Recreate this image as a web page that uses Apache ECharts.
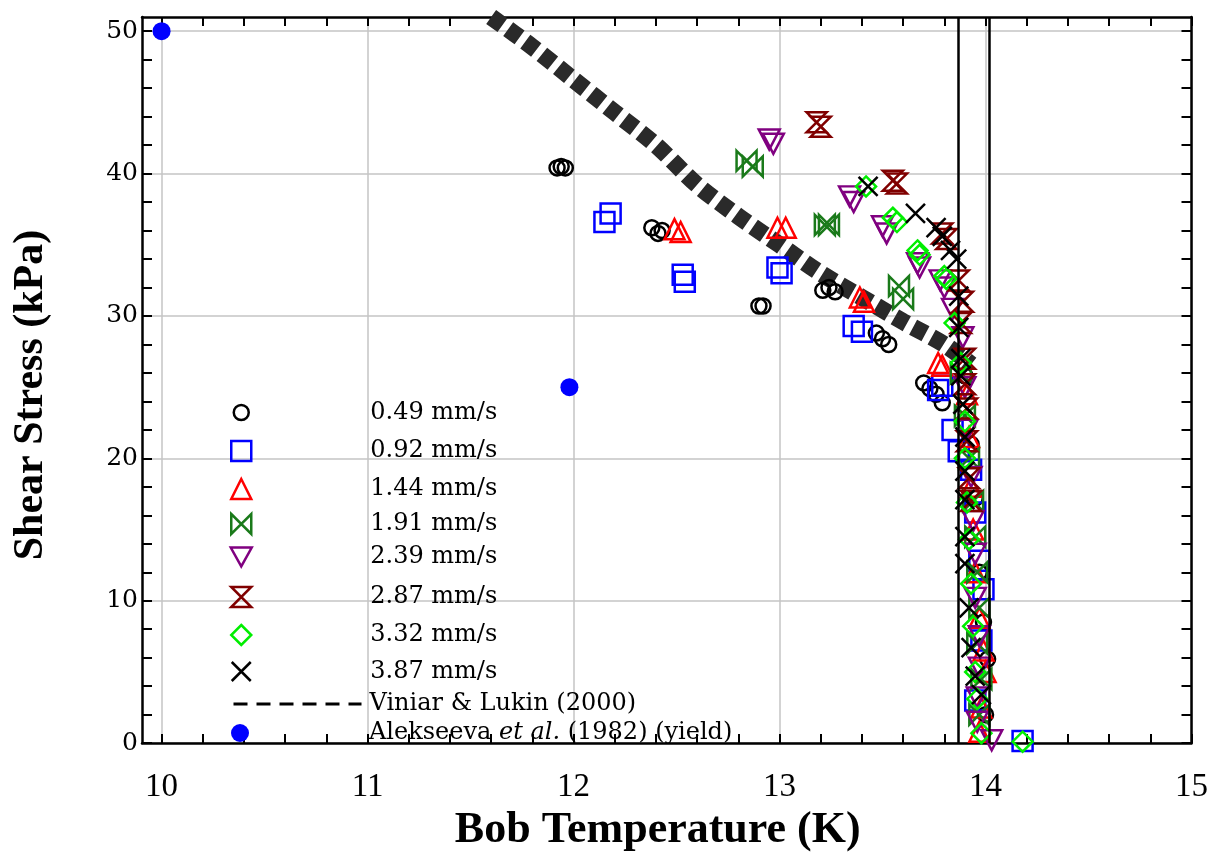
<!DOCTYPE html>
<html><head><meta charset="utf-8">
<script src="https://cdn.jsdelivr.net/npm/echarts@6/dist/echarts.min.js"></script>
<style>html,body{margin:0;padding:0;background:#fff}#c{width:1211px;height:858px}</style>
</head><body><div id="c"></div>
<script>
// ---- axes ----
const xRange = [9.905, 15];
const yRange = [0, 51];
const xTickVals = [10,10.2,10.4,10.6,10.8,11,11.2,11.4,11.6,11.8,12,12.2,12.4,12.6,12.8,13,13.2,13.4,13.6,13.8,14,14.2,14.4,14.6,14.8,15];
const xLabelVals = [10,11,12,13,14,15];
const yTickVals = [0,2,4,6,8,10,12,14,16,18,20,22,24,26,28,30,32,34,36,38,40,42,44,46,48,50];
const yLabelVals = [0,10,20,30,40,50];
const vLines = [13.865, 14.018];

// ---- Viniar & Lukin (2000) band ----
const viniarT = [11.6, 11.8, 12.0, 12.2, 12.4, 12.6, 12.8, 13.0, 13.2, 13.4, 13.6, 13.8, 13.93];
const viniarS = [51.0, 48.9, 46.6, 44.3, 42.0, 39.2, 37.0, 35.0, 33.0, 31.3, 29.6, 28.0, 26.6];

// ---- measured data [T (K), stress (kPa)] ----
const d049 = [[11.92,40.4],[11.94,40.5],[11.96,40.4],[12.38,36.2],[12.41,35.8],[12.43,36.0],[12.9,30.7],[12.92,30.7],
  [13.21,31.8],[13.24,32.0],[13.27,31.7],[13.47,28.8],[13.5,28.4],[13.53,28.0],[13.7,25.3],[13.73,24.9],[13.76,24.5],[13.79,23.9],
  [13.9,25.8],[13.93,21.0],[13.95,17.2],[13.97,12.0],[13.99,8.5],[14.01,5.9],[14.0,2.0]];
const d092 = [[12.15,36.6],[12.18,37.2],[12.53,32.9],[12.54,32.4],[12.99,33.4],[13.01,33.0],[13.36,29.3],[13.4,28.9],
  [13.77,24.8],[13.79,25.1],[13.84,22.0],[13.87,20.5],[13.93,19.2],[13.95,16.2],[13.97,12.8],[13.99,10.8],[13.98,7.2],[13.95,3.0],[14.18,0.15]];
const d144 = [[12.49,36.1],[12.52,35.9],[12.99,36.2],[13.03,36.2],[13.39,31.3],[13.41,31.0],[13.77,26.7],[13.79,26.5],
  [13.91,24.5],[13.92,21.5],[13.93,18.0],[13.94,15.0],[13.95,12.0],[13.97,8.8],[13.99,6.5],[14.0,5.0],[13.98,2.5],[13.97,0.8]];
const d191 = [[12.84,40.9],[12.87,40.5],[13.22,36.4],[13.24,36.4],[13.58,32.1],[13.6,31.2],
  [13.88,26.0],[13.9,23.0],[13.92,20.0],[13.94,17.0],[13.95,14.5],[13.96,12.0],[13.97,9.5],[13.96,7.0],[13.98,4.5],[13.97,2.0]];
const d239 = [[12.95,42.4],[12.97,42.1],[13.34,38.4],[13.36,38.0],[13.5,36.3],[13.52,35.8],[13.67,33.7],[13.68,33.4],
  [13.78,32.5],[13.8,32.0],[13.84,30.5],[13.89,28.5],[13.9,25.0],[13.91,22.0],[13.93,18.7],[13.94,15.6],[13.95,13.3],[13.95,10.2],
  [13.97,7.5],[13.97,5.3],[13.96,3.2],[13.96,1.5],[14.03,0.2]];
const d287 = [[13.18,43.6],[13.2,43.3],[13.55,39.5],[13.57,39.3],[13.79,35.8],[13.81,35.4],[13.87,32.5],[13.89,31.0],
  [13.88,29.5],[13.9,27.0],[13.9,25.2],[13.91,23.5],[13.91,21.2],[13.92,18.6],[13.93,17.0]];
const d332 = [[13.42,39.1],[13.55,36.9],[13.57,36.6],[13.67,34.6],[13.68,34.3],[13.8,32.8],[13.81,32.6],[13.85,29.5],
  [13.88,26.7],[13.9,22.6],[13.9,20.0],[13.91,16.9],[13.92,14.3],[13.93,11.2],[13.94,8.2],[13.95,5.0],[13.96,3.1],[13.98,0.7],[14.18,0.1]];
const d387 = [[13.43,39.1],[13.66,37.2],[13.76,36.2],[13.79,35.6],[13.83,34.6],[13.86,34.0],[13.87,31.4],[13.87,29.2],
  [13.88,27.0],[13.88,25.8],[13.89,23.8],[13.9,21.5],[13.9,19.1],[13.9,17.1],[13.9,14.5],[13.9,12.6],[13.92,9.5],[13.93,6.7],[13.95,4.7],[13.98,3.4]];
const dAlek = [[10.0,50.0],[11.98,25.0]];

// ---- legend ----
const names = ['0.49 mm/s','0.92 mm/s','1.44 mm/s','1.91 mm/s','2.39 mm/s','2.87 mm/s','3.32 mm/s','3.87 mm/s','Viniar & Lukin (2000)','Alekseeva et al. (1982) (yield)'];
const legendY = [408, 449, 487, 522, 555, 595, 633, 669, 699, 730];

const SYM = {
  bowtie: 'path://M0,0L20,20L20,0L0,20Z',
  hourglass: 'path://M0,0L20,0L0,20L20,20Z',
  down: 'path://M0,0L20,0L10,18Z',
  cross: 'path://M0,0L20,20M20,0L0,20'
};
const markerDefs = [
  {data: d049, symbol: 'circle', size: 15, color: '#000000'},
  {data: d092, symbol: 'rect', size: 20, color: '#0000ff'},
  {data: d144, symbol: 'triangle', size: 20, color: '#ff0000'},
  {data: d191, symbol: SYM.bowtie, size: 20, color: '#1a7a1a'},
  {data: d239, symbol: SYM.down, size: [21, 20], color: '#800080'},
  {data: d287, symbol: SYM.hourglass, size: 20, color: '#800000'},
  {data: d332, symbol: 'diamond', size: 20, color: '#00ee00'},
  {data: d387, symbol: SYM.cross, size: 19, color: '#000000'}
];

const serif = 'DejaVu Serif';
const tserif = 'Liberation Serif';

const series = [];
series.push({
  name: names[8], type: 'line', symbol: 'none', silent: true,
  data: viniarT.map((t, i) => [t, viniarS[i]]),
  smooth: 0.3,
  itemStyle: {color: '#000'},
  lineStyle: {color: '#2a2a2a', width: 17, type: [14, 7], cap: 'butt'},
  z: 2,
  markLine: {
    silent: true, symbol: ['none', 'none'], label: {show: false},
    lineStyle: {color: '#000', width: 2.5, type: 'solid'},
    emphasis: {disabled: true},
    data: vLines.map(v => ({xAxis: v}))
  }
});
markerDefs.forEach((m, i) => {
  series.push({
    name: names[i], type: 'scatter', silent: true, z: 3,
    data: m.data, symbol: m.symbol, symbolSize: m.size,
    itemStyle: {color: 'transparent', borderColor: m.color, borderWidth: 2.5, opacity: 1}
  });
});
series.push({
  name: names[9], type: 'scatter', silent: true, z: 3,
  data: dAlek, symbol: 'circle', symbolSize: 18,
  itemStyle: {color: '#0000ff', borderWidth: 0, opacity: 1}
});

const legends = [];
markerDefs.forEach((m, i) => {
  const w = Array.isArray(m.size) ? m.size[0] : m.size;
  const h = Array.isArray(m.size) ? m.size[1] : m.size;
  legends.push({
    left: 240 - w / 2, top: legendY[i] - h / 2, padding: 0,
    itemWidth: w, itemHeight: h, selectedMode: false,
    data: [names[i]],
    itemStyle: {borderWidth: 2.5, opacity: 1},
    textStyle: {fontFamily: serif, fontSize: 24, color: '#000', lineHeight: 14, padding: [0, 0, 0, 124 - w / 2]}
  });
});
legends.push({
  left: 232, top: legendY[8] - 7, padding: 0, itemWidth: 128, itemHeight: 14, selectedMode: false,
  data: [names[8]],
  lineStyle: {color: '#000', width: 3, type: [14, 9], cap: 'butt', opacity: 1},
  itemStyle: {color: 'rgba(0,0,0,0)', borderWidth: 0, opacity: 0},
  textStyle: {fontFamily: serif, fontSize: 24, color: '#000', lineHeight: 14, padding: [0, 0, 0, 3]}
});
legends.push({
  left: 231, top: legendY[9] - 9, padding: 0, itemWidth: 18, itemHeight: 18, selectedMode: false,
  data: [names[9]],
  itemStyle: {opacity: 1},
  formatter: () => 'Alekseeva {i|et al.} (1982) (yield)',
  textStyle: {fontFamily: serif, fontSize: 24, color: '#000', lineHeight: 14, padding: [0, 0, 0, 115],
    rich: {i: {fontFamily: serif, fontStyle: 'italic', fontSize: 24, color: '#000', lineHeight: 14}}}
});

const axLine = {show: true, onZero: false, lineStyle: {color: '#000', width: 2.5}};
const tickStyle = {color: '#000', width: 2};

const option = {
  animation: false,
  backgroundColor: '#fff',
  grid: {left: 142, right: 14, top: 17, bottom: 100, containLabel: false},
  legend: legends,
  xAxis: [
    {type: 'value', min: xRange[0], max: xRange[1], position: 'bottom',
      axisLine: axLine,
      axisTick: {show: true, inside: true, length: 9, customValues: xTickVals, lineStyle: tickStyle},
      axisLabel: {customValues: xLabelVals, margin: 28, fontFamily: tserif, fontSize: 33, color: '#000'},
      splitLine: {show: false},
      name: 'Bob Temperature (K)', nameLocation: 'middle', nameGap: 58,
      nameTextStyle: {fontFamily: tserif, fontWeight: 'bold', fontSize: 44, color: '#000', padding: [0, 18, 0, 0]}},
    {type: 'value', min: xRange[0], max: xRange[1], position: 'top',
      axisLine: axLine,
      axisTick: {show: true, inside: true, length: 9, customValues: xTickVals, lineStyle: tickStyle},
      axisLabel: {show: false}, splitLine: {show: false}},
    {type: 'value', min: xRange[0], max: xRange[1], position: 'bottom',
      axisLine: {show: false}, axisTick: {show: false, customValues: xLabelVals}, axisLabel: {show: false},
      splitLine: {show: true, lineStyle: {color: '#c4c4c4', width: 1.5}}}
  ],
  yAxis: [
    {type: 'value', min: yRange[0], max: yRange[1], position: 'left',
      axisLine: axLine,
      axisTick: {show: true, inside: true, length: 10, customValues: yTickVals, lineStyle: tickStyle},
      axisLabel: {customValues: yLabelVals, margin: 4, fontFamily: serif, fontSize: 25, color: '#000'},
      splitLine: {show: false},
      name: 'Shear Stress (kPa)', nameLocation: 'middle', nameGap: 90,
      nameTextStyle: {fontFamily: tserif, fontWeight: 'bold', fontSize: 42, color: '#000', padding: [0, 30, 0, 0]}},
    {type: 'value', min: yRange[0], max: yRange[1], position: 'right',
      axisLine: axLine,
      axisTick: {show: true, inside: true, length: 10, customValues: yTickVals, lineStyle: tickStyle},
      axisLabel: {show: false}, splitLine: {show: false}},
    {type: 'value', min: yRange[0], max: yRange[1], position: 'left',
      axisLine: {show: false}, axisTick: {show: false, customValues: yLabelVals}, axisLabel: {show: false},
      splitLine: {show: true, lineStyle: {color: '#c4c4c4', width: 1.5}}}
  ],
  series: series
};

const chart = echarts.init(document.getElementById('c'), null, {renderer: 'canvas'});
chart.setOption(option);
</script>
</body></html>
